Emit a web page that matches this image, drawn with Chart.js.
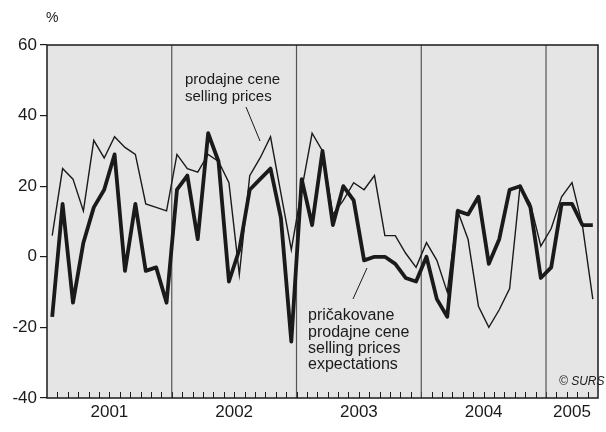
<!DOCTYPE html>
<html>
<head>
<meta charset="utf-8">
<script src="https://cdn.jsdelivr.net/npm/chart.js@4.4.1/dist/chart.umd.min.js"></script>
<style>
  body { margin: 0; background: #fff; }
  canvas { display: block; }
</style>
</head>
<body>
<canvas id="myChart" width="606" height="432"></canvas>
<script>
'use strict';

// data, monthly 2001 - 2005
var years = ['2001', '2002', '2003', '2004', '2005'];
var monthsPerYear = [12, 12, 12, 12, 5];

// prodajne cene / selling prices (thin line)
var sellingPrices = [
  6, 25, 22, 13, 33, 28, 34, 31, 29, 15, 14, 13,
  29, 25, 24, 29, 27, 21, -5, 23, 28, 34, 18, 2,
  19, 35, 30, 12, 16, 21, 19, 23, 6, 6, 1, -3,
  4, -1, -10, 13, 5, -14, -20, -15, -9, 20, 15, 3,
  8, 17, 21, 9, -12
];

// pricakovane prodajne cene / selling prices expectations (thick line)
var priceExpectations = [
  -17, 15, -13, 4, 14, 19, 29, -4, 15, -4, -3, -13,
  19, 23, 5, 35, 27, -7, 2, 19, 22, 25, 11, -24,
  22, 9, 30, 9, 20, 16, -1, 0, 0, -2, -6, -7,
  0, -12, -17, 13, 12, 17, -2, 5, 19, 20, 14, -6,
  -3, 15, 15, 9, 9
];

var yTicks = [-40, -20, 0, 20, 40, 60];

// build month labels
var labels = [];
for (var i = 0; i < years.length; i++) {
  for (var m = 1; m <= monthsPerYear[i]; m++) {
    labels.push(years[i] + '-' + m);
  }
}

var FONT = "'Liberation Sans', Arial, Helvetica, sans-serif";
var INK = '#1a1a1a';

// grey plot area, year dividers, month ticks, frame, texts
var decorPlugin = {
  id: 'decor',
  beforeDraw: function(chart) {
    var ctx = chart.ctx;
    var a = chart.chartArea;
    ctx.save();
    ctx.fillStyle = '#e5e5e5';
    ctx.fillRect(a.left, a.top, a.right - a.left, a.bottom - a.top);
    ctx.restore();
  },
  beforeDatasetsDraw: function(chart) {
    var ctx = chart.ctx;
    var a = chart.chartArea;
    var xs = chart.scales.x;
    var w = xs.getPixelForValue(1) - xs.getPixelForValue(0);
    var left = xs.getPixelForValue(0) - w / 2;
    ctx.save();
    // month ticks
    ctx.strokeStyle = INK;
    ctx.lineWidth = 1;
    for (var k = 1; k < labels.length; k++) {
      var x = Math.round(left + k * w) + 0.5;
      ctx.beginPath();
      ctx.moveTo(x, a.bottom);
      ctx.lineTo(x, a.bottom - 6);
      ctx.stroke();
    }
    // year dividers
    ctx.strokeStyle = '#555';
    ctx.lineWidth = 1.2;
    var idx = 0;
    for (var j = 0; j < monthsPerYear.length - 1; j++) {
      idx += monthsPerYear[j];
      var xd = left + idx * w;
      ctx.beginPath();
      ctx.moveTo(xd, a.top);
      ctx.lineTo(xd, a.bottom);
      ctx.stroke();
    }
    ctx.restore();
  },
  afterDraw: function(chart) {
    var ctx = chart.ctx;
    var a = chart.chartArea;
    var xs = chart.scales.x;
    ctx.save();
    // frame
    ctx.strokeStyle = INK;
    ctx.lineWidth = 1.5;
    ctx.strokeRect(a.left, a.top, a.right - a.left, a.bottom - a.top);

    // year labels
    ctx.fillStyle = INK;
    ctx.font = '17px ' + FONT;
    ctx.textAlign = 'center';
    ctx.textBaseline = 'middle';
    var start = 0;
    for (var j = 0; j < years.length; j++) {
      var end = start + monthsPerYear[j] - 1;
      var cx = (xs.getPixelForValue(start) + xs.getPixelForValue(end)) / 2;
      ctx.fillText(years[j], cx, 412);
      start = end + 1;
    }

    // unit
    ctx.textAlign = 'left';
    ctx.font = '14px ' + FONT;
    ctx.fillText('%', 46, 18);

    // labels of the lines
    ctx.textBaseline = 'alphabetic';
    ctx.font = '15px ' + FONT;
    ctx.fillText('prodajne cene', 185, 84);
    ctx.fillText('selling prices', 185, 101);
    ctx.font = '16px ' + FONT;
    ctx.fillText('pričakovane', 308, 320);
    ctx.fillText('prodajne cene', 308, 337);
    ctx.fillText('selling prices', 308, 353);
    ctx.fillText('expectations', 308, 369);

    // leader lines
    ctx.lineWidth = 1;
    ctx.beginPath();
    ctx.moveTo(246, 107);
    ctx.lineTo(260, 141);
    ctx.moveTo(367, 268);
    ctx.lineTo(353, 299);
    ctx.stroke();

    // source
    ctx.font = 'italic 12px ' + FONT;
    ctx.fillText('© SURS', 559, 385);
    ctx.restore();
  }
};

var ctx = document.getElementById('myChart').getContext('2d');
var chart = new Chart(ctx, {
  type: 'line',
  data: {
    labels: labels,
    datasets: [{
      label: 'prodajne cene / selling prices',
      data: sellingPrices,
      borderColor: INK,
      borderWidth: 1.4,
      pointRadius: 0,
      tension: 0
    }, {
      label: 'pričakovane prodajne cene / selling prices expectations',
      data: priceExpectations,
      borderColor: INK,
      borderWidth: 3.8,
      borderJoinStyle: 'round',
      pointRadius: 0,
      tension: 0
    }]
  },
  options: {
    responsive: false,
    animation: false,
    devicePixelRatio: 1,
    layout: { padding: { top: 45, right: 8, left: 0, bottom: 0 } },
    plugins: {
      legend: { display: false },
      tooltip: { enabled: false }
    },
    scales: {
      x: {
        type: 'category',
        offset: true,
        grid: { display: false },
        ticks: { display: false },
        border: { display: false },
        afterFit: function(s) { s.height = 34; }
      },
      y: {
        min: -40,
        max: 60,
        afterBuildTicks: function(s) {
          s.ticks = yTicks.map(function(v) { return { value: v }; });
        },
        ticks: {
          color: INK,
          padding: 3,
          font: { size: 17, family: FONT }
        },
        grid: {
          drawOnChartArea: false,
          drawTicks: true,
          tickLength: 7,
          color: INK,
          lineWidth: 1.2
        },
        border: { display: false },
        afterFit: function(s) { s.width = 47; }
      }
    }
  },
  plugins: [decorPlugin]
});
</script>
</body>
</html>
